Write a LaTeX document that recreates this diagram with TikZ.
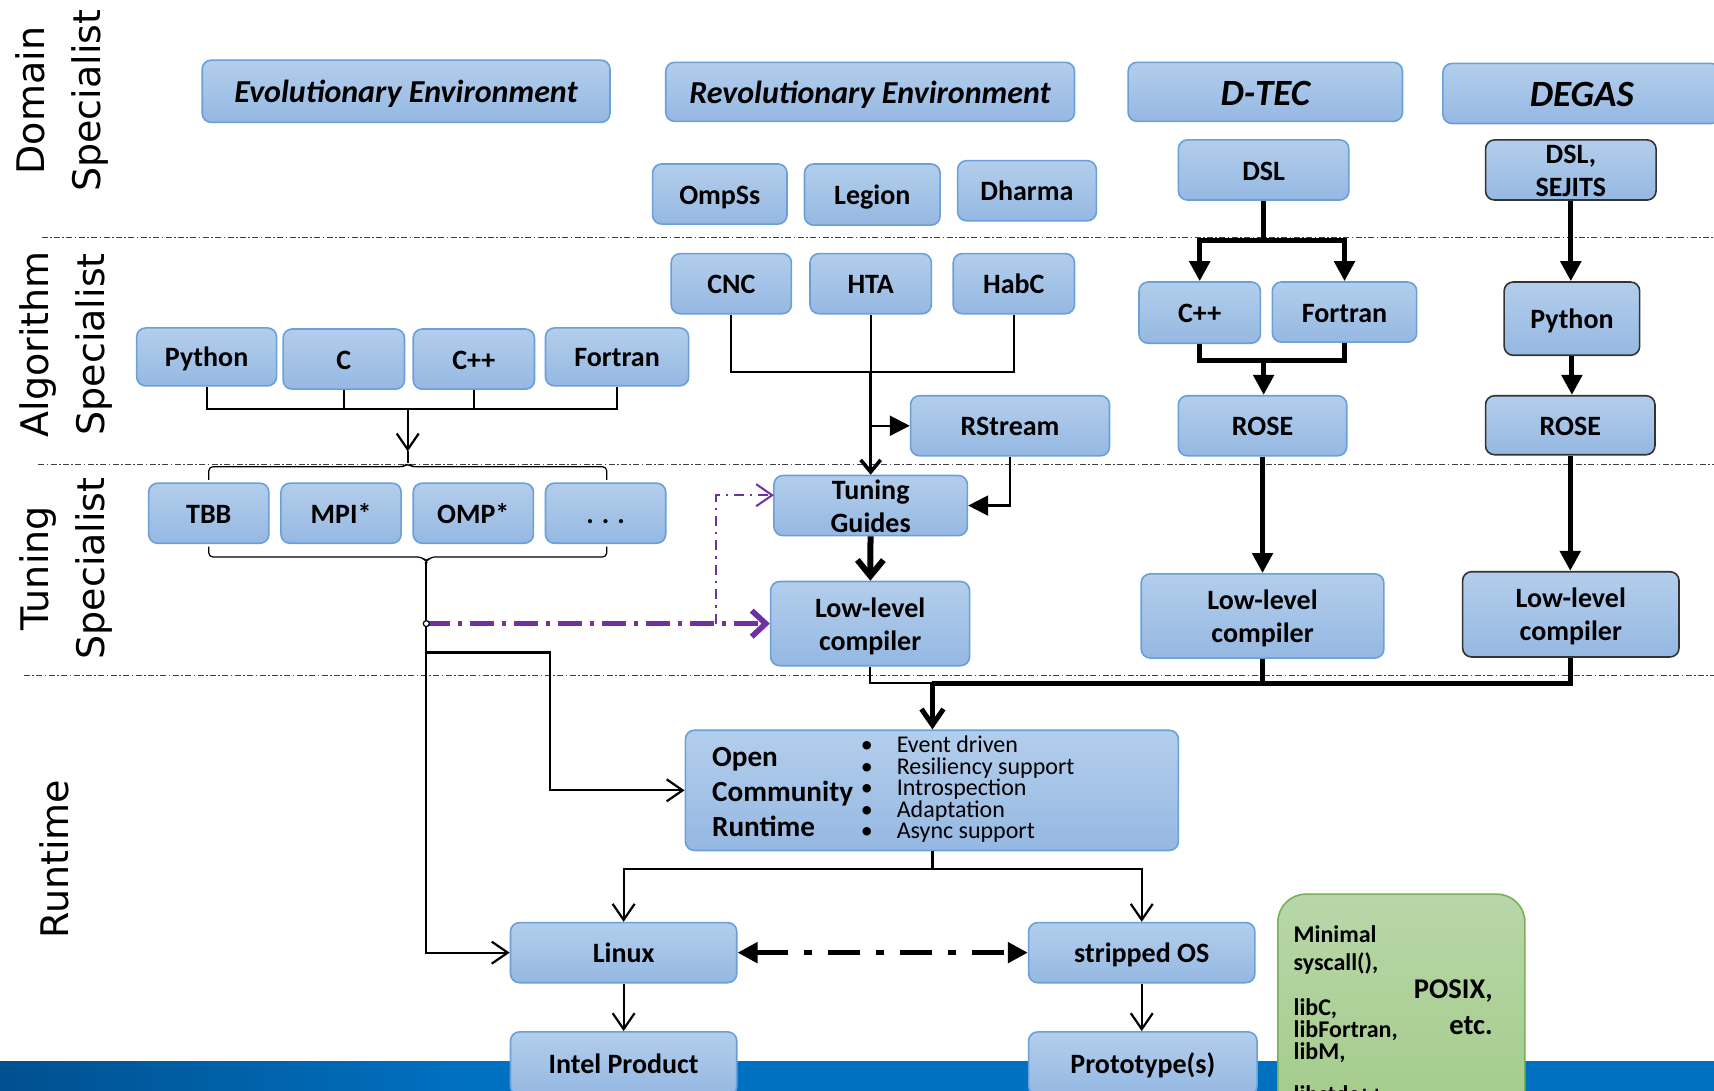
\documentclass[tikz,border=0pt]{standalone}
\usepackage{fontspec}
\setmainfont{Carlito}
\newfontfamily\sidefont{DejaVu Sans}
\usetikzlibrary{arrows.meta,calc}

\definecolor{boxtop}{HTML}{B3CEEC}
\definecolor{boxbot}{HTML}{95B8E2}
\definecolor{boxline}{HTML}{6A9FDA}
\definecolor{grntop}{HTML}{B8D7A9}
\definecolor{grnbot}{HTML}{A2CA87}
\definecolor{grnline}{HTML}{78B155}
\definecolor{ocrpurple}{HTML}{7030A0}
\definecolor{barblue}{HTML}{0070C0}
\definecolor{bardark}{HTML}{00508F}

% box from corner (x1,y1) to (x2,y2), in picture pixels
\newcommand\blkat[7][blk]{%
  \node[#1, minimum width={(#5-#3)*0.5466pt}, minimum height={(#6-#4)*0.5466pt}]
    (#2) at ({(#3+#5)/2},{(#4+#6)/2}) {#7};}
% raised first line for two-line boxes
\newcommand\tl{\rule{0pt}{0.96em}}

\tikzset{
  blk/.style={draw=boxline, line width=0.8pt, rounded corners=4.5pt,
    top color=boxtop, bottom color=boxbot, inner sep=0pt, align=center,
    execute at begin node={\rule{0pt}{0.97em}},
    execute at end node={\rule[-0.25em]{0pt}{0pt}},
    font=\bfseries\fontsize{14}{16.5}\selectfont},
  tight/.style={inner ysep=-2pt},
  dkblk/.style={blk, draw=black!80},
  envblk/.style={blk, font=\bfseries\itshape\fontsize{16}{18}\selectfont},
  bigblk/.style={blk, font=\bfseries\itshape\fontsize{18.5}{20}\selectfont},
  grnblk/.style={draw=grnline, line width=0.8pt, rounded corners=14pt,
    top color=grntop, bottom color=grnbot, inner sep=0pt},
  side/.style={rotate=90, align=center, font=\sidefont\fontsize{19}{28}\selectfont},
  sep/.style={black!75, line width=0.6pt, dash pattern=on 3pt off 1.2pt on 0.8pt off 1.2pt},
  wire/.style={line width=1.1pt},
  brace/.style={line width=0.6pt, rounded corners=2pt},
  mid/.style={line width=1.8pt},
  thk/.style={line width=2.5pt},
  heavy/.style={line width=3pt},
  barb/.style={-{Straight Barb[length=8pt,width=11pt]}},
  tri/.style={-{Triangle[length=10pt,width=10pt]}},
  purthick/.style={ocrpurple, line width=2.8pt, dash pattern=on 12pt off 4pt on 2pt off 4pt},
  purthin/.style={ocrpurple, line width=1pt, dash pattern=on 5pt off 3pt on 1.2pt off 3pt},
}

\begin{document}
\begin{tikzpicture}[x=0.5466pt,y=-0.5466pt]
  \clip (0,0) rectangle (1568,998);
  % bottom bar
  \fill[barblue] (0,971) rectangle (1568,998);
  \shade[left color=bardark, right color=barblue] (0,971) rectangle (420,998);

  % level separators
  \draw[sep] (38,217) -- (1568,217);
  \draw[sep] (35,425) -- (1568,425);
  \draw[sep] (22,618) -- (1568,618);

  \node[side] (dom) at (57,92) {Domain\\Specialist};
  \node[side] (alg) at (60,315) {Algorithm\\Specialist};
  \node[side] (tun) at (60,520) {Tuning\\Specialist};
  \node[side] (rt) at (50,786) {Runtime};

  % domain level
  \blkat[envblk]{evo}{185}{55}{558}{112}{Evolutionary Environment}
  \blkat[envblk]{rev}{609}{57}{983}{111}{Revolutionary Environment}
  \blkat[bigblk]{dtec}{1032}{57}{1283}{111}{D-TEC}
  \blkat[bigblk]{degas}{1320}{58}{1574}{113}{DEGAS}
  \blkat{ompss}{597}{150}{720}{205}{OmpSs}
  \blkat{legion}{736}{150}{860}{206}{Legion}
  \blkat{dharma}{876}{147}{1003}{202}{Dharma}
  \blkat{dsl}{1078}{128}{1234}{183}{DSL}
  \blkat[dkblk,tight]{sejits}{1359}{128}{1515}{183}{\tl DSL,\\SEJITS}

  % algorithm level
  \blkat{cnc}{614}{232}{724}{287}{CNC}
  \blkat{hta}{741}{232}{852}{287}{HTA}
  \blkat{habc}{872}{232}{983}{287}{HabC}
  \blkat{dcpp}{1042}{258}{1153}{314}{C++}
  \blkat{dfort}{1164}{258}{1296}{313}{Fortran}
  \blkat[dkblk]{gpy}{1376}{258}{1500}{325}{Python}
  \blkat{py}{125}{300}{253}{353}{Python}
  \blkat{c}{259}{301}{370}{356}{C}
  \blkat{cpp}{378}{301}{489}{356}{C++}
  \blkat{fort}{499}{300}{630}{353}{Fortran}
  \blkat{rstream}{833}{362}{1015}{417}{RStream}
  \blkat{drose}{1078}{362}{1232}{417}{ROSE}
  \blkat[dkblk]{grose}{1359}{362}{1514}{416}{ROSE}

  % tuning level
  \blkat{tbb}{136}{442}{246}{497}{TBB}
  \blkat{mpi}{257}{442}{367}{497}{MPI*}
  \blkat{omp}{378}{442}{488}{497}{OMP*}
  \blkat{more}{499}{442}{609}{497}{.\hspace{4pt}.\hspace{4pt}.}
  \blkat[blk,tight]{tg}{708}{435}{885}{490}{\tl Tuning\\Guides}
  \blkat[blk,tight]{llc}{705}{532}{887}{609}{\tl Low-level\\compiler}
  \blkat[blk,tight]{dllc}{1044}{525}{1266}{602}{\tl Low-level\\compiler}
  \blkat[dkblk,tight]{gllc}{1338}{523}{1536}{601}{\tl Low-level\\compiler}

  % runtime level
  \blkat{ocr}{627}{668}{1078}{778}{}
  \node[anchor=west, align=left, font=\bfseries\fontsize{14.6}{17.5}\selectfont]
    (ocrname) at (645,725) {Open\\Community\\Runtime};
  \node[anchor=west, align=left, font=\fontsize{12}{10.7}\selectfont] (ocrlist) at (781,722)
    {\makebox[18pt][l]{\textbullet}Event driven\\
     \makebox[18pt][l]{\textbullet}Resiliency support\\
     \makebox[18pt][l]{\textbullet}Introspection\\
     \makebox[18pt][l]{\textbullet}Adaptation\\
     \makebox[18pt][l]{\textbullet}Async support};
  \blkat{linux}{467}{844}{674}{899}{Linux}
  \blkat{sos}{941}{844}{1148}{899}{stripped OS}
  \blkat{intel}{467}{944}{674}{1002}{Intel Product}
  \blkat{proto}{941}{944}{1150}{1002}{Prototype(s)}
  \blkat[grnblk]{os}{1169}{818}{1395}{1040}{}
  \node[anchor=west, align=left, font=\bfseries\fontsize{12}{14.2}\selectfont]
    (sys) at (1177,869) {Minimal\\syscall(),};
  \node[anchor=west, align=left, font=\bfseries\fontsize{12}{11}\selectfont]
    (libs) at (1177,943) {libC,\\libFortran,\\libM,};
  \node[anchor=west, font=\bfseries\fontsize{12}{11}\selectfont] (stdc) at (1177,1001) {libstdc++};
  \node[anchor=east, align=right, font=\bfseries\fontsize{14.3}{18}\selectfont]
    (posix) at (1372,921) {POSIX,\\etc.};

  % evolutionary path
  \coordinate (pj) at (373,374);
  \coordinate (pa) at (373,413);
  \coordinate (btop) at (373,424);
  \coordinate (bbot) at (390,514);
  \draw[wire] (py.south) |- (pj) -| (fort.south);
  \draw[wire] (c.south) -- (c.south |- pj);
  \draw[wire] (cpp.south) -- (cpp.south |- pj);
  \draw[wire,barb] (pj) -- (pa);
  \draw[wire] (pa) -- (btop);
  \draw[brace] (191,439) |- (369,427) -- (btop) -- (377,427) -| (555,439);
  \draw[brace] (191,500) |- (386,509.5) -- (bbot) -- (394,509.5) -| (555,500);
  \draw[wire,barb] (bbot) |- (linux.west);
  \draw[wire,barb] (390,597) -| (503,700) |- (ocr.west);

  % purple links
  \coordinate (pjunc) at (390,570.5);
  \coordinate (pk) at (655,570.5);
  \coordinate (tgin) at (708,453);
  \draw[purthick,-{Straight Barb[length=7pt,width=13pt]}] (pjunc) -- (llc.west);
  \draw[purthin,barb] (pk) |- (tgin);
  \draw[line width=0.6pt, fill=white] (pjunc) circle[radius=1.5pt];

  % revolutionary path
  \coordinate (cj) at (796.5,340);
  \draw[wire] (cnc.south) |- (cj) -| (habc.south);
  \draw[wire] (hta.south) -- (cj);
  \draw[mid,-{Straight Barb[length=6pt,width=10pt]}] (cj) -- (cj |- tg.north);
  \draw[wire,tri] (796.5,389.5) -- (rstream.west);
  \draw[wire,tri] (rstream.south) |- (tg.east);
  \draw[heavy,-{Straight Barb[length=8pt,width=13pt]}] (tg) -- (llc);

  % D-TEC path
  \coordinate (dj) at (1156,220);
  \coordinate (rj) at (1156,330);
  \draw[thk] (dsl.south) -- (dj);
  \draw[thk,tri] (dj) -| (dcpp.north);
  \draw[thk,tri] (dj) -| (dfort.north);
  \draw[thk] (dcpp.south) |- (rj) -| (dfort.south);
  \draw[thk,tri] (rj) -- (rj |- drose.north);
  \draw[thk,tri] (drose) -- (dllc);

  % DEGAS path
  \draw[thk,tri] (sejits) -- (sejits |- gpy.north);
  \draw[thk,tri] (gpy) -- (gpy |- grose.north);
  \draw[thk,tri] (grose) -- (grose |- gllc.north);

  % into the runtime
  \coordinate (lj) at (853,625);
  \draw[wire] (llc.south) |- (lj);
  \draw[thk] (dllc.south) |- (lj);
  \draw[thk] (gllc.south) |- (lj);
  \draw[thk,barb] (lj) -- (lj |- ocr.north);

  \coordinate (oj) at (853,795);
  \draw[wire] (oj |- ocr.south) -- (oj);
  \draw[wire,barb] (oj) -| (linux.north);
  \draw[wire,barb] (oj) -| (sos.north);
  \draw[line width=2.8pt, dash pattern=on 16pt off 8pt on 4pt off 8pt,
    {Triangle[length=10pt,width=10pt]}-{Triangle[length=10pt,width=10pt]}] (linux) -- (sos);
  \draw[wire,barb] (linux) -- (intel);
  \draw[wire,barb] (sos.south) -- (sos.south |- proto.north);
\end{tikzpicture}
\end{document}
